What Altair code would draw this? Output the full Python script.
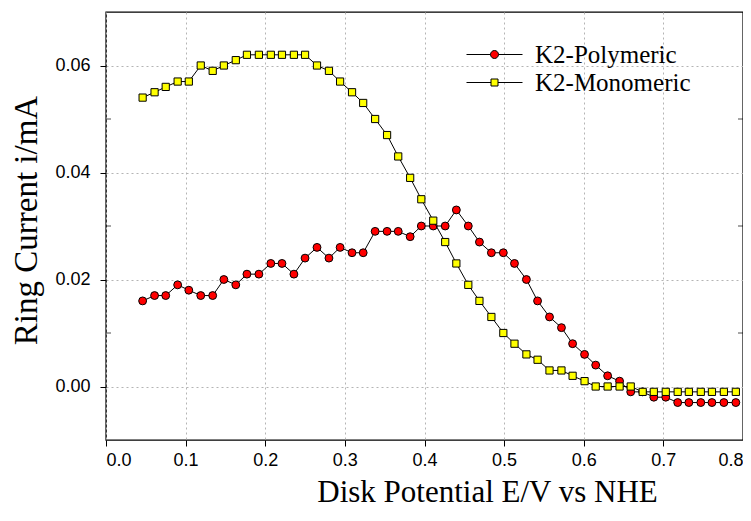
import altair as alt
import pandas as pd

# Disk potential (V vs NHE), shared by both series
potential = [0.046, 0.061, 0.075, 0.090, 0.104, 0.119, 0.134, 0.148, 0.163, 0.177,
             0.192, 0.207, 0.221, 0.236, 0.250, 0.265, 0.280, 0.294, 0.309, 0.323,
             0.338, 0.353, 0.367, 0.382, 0.396, 0.411, 0.426, 0.440, 0.455, 0.469,
             0.484, 0.499, 0.513, 0.528, 0.542, 0.557, 0.572, 0.586, 0.601, 0.615,
             0.630, 0.645, 0.659, 0.674, 0.688, 0.703, 0.718, 0.732, 0.747, 0.761,
             0.776, 0.791]

polymeric = [0.016, 0.017, 0.017, 0.019, 0.018, 0.017, 0.017, 0.020, 0.019, 0.021,
             0.021, 0.023, 0.023, 0.021, 0.024, 0.026, 0.024, 0.026, 0.025, 0.025,
             0.029, 0.029, 0.029, 0.028, 0.030, 0.030, 0.030, 0.033, 0.030, 0.027,
             0.025, 0.025, 0.023, 0.020, 0.016, 0.013, 0.011, 0.008, 0.006, 0.004,
             0.002, 0.001, -0.001, -0.001, -0.002, -0.002, -0.003, -0.003, -0.003, -0.003,
             -0.003, -0.003]

monomeric = [0.054, 0.055, 0.056, 0.057, 0.057, 0.060, 0.059, 0.060, 0.061, 0.062,
             0.062, 0.062, 0.062, 0.062, 0.062, 0.060, 0.059, 0.057, 0.055, 0.053,
             0.050, 0.047, 0.043, 0.039, 0.035, 0.031, 0.027, 0.023, 0.019, 0.016,
             0.013, 0.010, 0.008, 0.006, 0.005, 0.003, 0.003, 0.002, 0.001, 0.000,
             0.000, 0.000, 0.000, -0.001, -0.001, -0.001, -0.001, -0.001, -0.001, -0.001,
             -0.001, -0.001]

series_names = ["K2-Polymeric", "K2-Monomeric"]
fill_colors = ["#ff0000", "#ffff00"]
marker_shapes = ["circle", "square"]
marker_sizes = [62, 52]

x_ticks = [0.0, 0.1, 0.2, 0.3, 0.4, 0.5, 0.6, 0.7, 0.8]
y_ticks = [0.00, 0.02, 0.04, 0.06]
y_minor = [0.01, 0.03, 0.05]

rows = []
for name, vals in zip(series_names, [polymeric, monomeric]):
    for i, (xv, yv) in enumerate(zip(potential, vals)):
        rows.append({"series": name, "E": xv, "I": yv, "idx": i})
df = pd.DataFrame(rows)
minor_df = pd.DataFrame({"v": y_minor})

W, H = 637, 428

# legend symbols: a line segment with the marker in its middle
legend_paths = [
    "M-4,0H-0.57M0.57,0H4M0.57,0A0.57,0.57,0,1,1,-0.57,0A0.57,0.57,0,1,1,0.57,0Z",
    "M-4,0H-0.5M0.5,0H4M-0.5,-0.5H0.5V0.5H-0.5Z",
]
legend_y = [30, 58]

x_enc = alt.X("E:Q", scale=alt.Scale(domain=[0, 0.8], nice=False, zero=False),
              axis=alt.Axis(values=x_ticks, format=".1f", labelPadding=5,
                            titleX=381, titleY=37, titleBaseline="top",
                            titleFontSize=31,
                            title="Disk Potential E/V vs NHE"))
y_enc = alt.Y("I:Q", scale=alt.Scale(domain=[-0.01, 0.07], nice=False, zero=False),
              axis=alt.Axis(values=y_ticks, format=".2f", labelPadding=10,
                            titlePadding=11, titleFontSize=33, titleY=208,
                            title="Ring Current i/mA"))

layers = []
for k, name in enumerate(series_names):
    sub = alt.Chart(df).transform_filter(alt.datum.series == name)
    line = sub.mark_line(color="black", strokeWidth=1).encode(
        x=x_enc, y=y_enc, order="idx:Q")
    leg = alt.Legend(title=None, orient="none", legendX=376, legendY=legend_y[k],
                     symbolType=legend_paths[k], symbolSize=196,
                     symbolStrokeColor="black", symbolStrokeWidth=1,
                     labelFont="Liberation Serif", labelFontSize=25, labelColor="black",
                     labelOffset=28, padding=0)
    pts = sub.mark_point(filled=True, stroke="black", strokeWidth=1,
                         shape=marker_shapes[k], size=marker_sizes[k],
                         opacity=1).encode(
        x=x_enc, y=y_enc,
        fill=alt.Fill("series:N", scale=alt.Scale(domain=[name], range=[fill_colors[k]]),
                      legend=leg))
    layers += [line, pts]

minor_left = alt.Chart(minor_df).mark_tick(orient="horizontal", color="black",
                                           thickness=1, size=5).encode(
    y=alt.Y("v:Q", scale=alt.Scale(domain=[-0.01, 0.07], nice=False, zero=False)),
    x=alt.value(2.5))
minor_right = alt.Chart(minor_df).mark_tick(orient="horizontal", color="black",
                                            thickness=1, size=5).encode(
    y=alt.Y("v:Q", scale=alt.Scale(domain=[-0.01, 0.07], nice=False, zero=False)),
    x=alt.value(W - 2.5))

chart = alt.layer(*layers, minor_left, minor_right).resolve_scale(
    fill="independent"
).properties(
    width=W, height=H,
    autosize=alt.AutoSizeParams(type="none"),
    padding={"left": 98, "top": 4, "right": 0, "bottom": 73},
).configure_view(
    stroke="black", strokeWidth=1.4
).configure_axis(
    grid=True, gridColor="#b4b4b4", gridDash=[2, 3], gridWidth=1,
    domain=False, tickColor="black", tickSize=6, tickWidth=1,
    labelFont="Liberation Sans", labelFontSize=18, labelColor="black",
    titleFont="Liberation Serif", titleFontWeight="normal",
    titleColor="black"
)

chart.save("out.html", embed_options={"renderer": "svg", "actions": False})
